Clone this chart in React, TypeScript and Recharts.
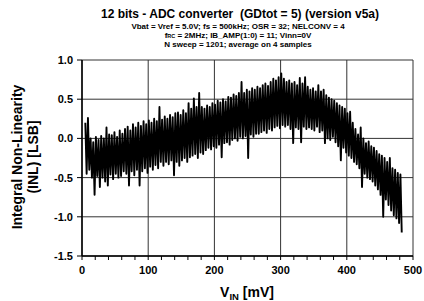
import { LineChart, Line, XAxis, YAxis, CartesianGrid } from 'recharts';

// INL, one value every 2 mV starting at 5 mV
const inlValues = [
  0.2, -0.45, 0.26, -0.4, 0.0, -0.5, -0.05, -0.72, 0.02, -0.48,
  -0.02, -0.62, 0.03, -0.5, 0.0, -0.55, 0.14, -0.6, 0.05, -0.46,
  0.04, -0.52, 0.08, -0.45, 0.02, -0.5, 0.1, -0.48, 0.06, -0.42,
  0.12, -0.45, 0.15, -0.6, 0.1, -0.42, 0.18, -0.47, 0.14, -0.4,
  0.2, -0.6, 0.16, -0.42, 0.22, -0.38, 0.18, -0.44, 0.23, -0.36,
  0.2, -0.4, 0.25, -0.34, 0.22, -0.38, 0.4, -0.3, 0.24, -0.35,
  0.28, -0.3, 0.25, -0.33, 0.3, -0.28, 0.27, -0.47, 0.32, -0.3,
  0.33, -0.35, 0.3, -0.28, 0.36, -0.25, 0.32, -0.3, 0.45, -0.24,
  0.38, -0.22, 0.51, -0.2, 0.4, -0.25, 0.58, -0.18, 0.4, -0.2,
  0.38, -0.15, 0.42, -0.12, 0.4, -0.14, 0.45, -0.1, 0.43, -0.12,
  0.48, -0.08, 0.46, -0.24, 0.5, -0.06, 0.47, -0.05, 0.53, -0.08,
  0.52, -0.02, 0.56, 0.0, 0.54, -0.03, 0.58, 0.02, 0.72, 0.0,
  0.58, 0.03, 0.62, -0.25, 0.6, 0.05, 0.64, 0.02, 0.62, 0.06,
  0.66, 0.06, 0.64, 0.08, 0.68, 0.1, 0.7, 0.07, 0.67, 0.12,
  0.72, 0.1, 0.76, 0.14, 0.74, 0.16, 0.78, 0.13, 0.83, 0.17,
  0.76, 0.15, 0.72, 0.17, 0.74, 0.12, 0.7, -0.06, 0.72, 0.14,
  0.68, 0.12, 0.77, -0.05, 0.7, 0.15, 0.78, 0.12, 0.66, 0.14,
  0.62, 0.12, 0.64, 0.1, 0.6, 0.15, 0.68, 0.08, 0.6, 0.1,
  0.62, -0.06, 0.55, 0.0, 0.52, -0.02, 0.5, 0.02, 0.48, -0.05,
  0.45, -0.1, 0.42, -0.28, 0.4, -0.12, 0.38, -0.18, 0.32, -0.22,
  0.34, -0.25, 0.2, -0.3, 0.12, -0.33, 0.05, -0.38, 0.14, -0.62,
  0.0, -0.45, -0.06, -0.5, -0.04, -0.52, -0.1, -0.55, -0.12, -0.6,
  -0.16, -0.65, -0.2, -0.72, -0.22, -1.0, -0.25, -0.78, -0.3, -0.85,
  -0.25, -0.92, -0.38, -0.98, -0.4, -1.02, -0.44, -1.08, -0.46, -1.2,
];
const VIN_START = 5;
const VIN_STEP = 2;

const xMajorTicks = [0, 100, 200, 300, 400, 500];
const xMinorTicks = [
  0, 20, 40, 60, 80, 100, 120, 140, 160, 180, 200, 220, 240, 260, 280, 300,
  320, 340, 360, 380, 400, 420, 440, 460, 480, 500,
];
const yTicks = [-1.5, -1.0, -0.5, 0, 0.5, 1.0];

const title = '12 bits - ADC converter  (GDtot = 5) (version v5a)';
const subtitle1 = 'Vbat = Vref = 5.0V; fs = 500kHz; OSR = 32; NELCONV = 4';
const subtitle3 = 'N sweep = 1201; average on 4 samples';

const data = inlValues.map((v, i) => ({ vin: VIN_START + i * VIN_STEP, inl: v }));

const FONT = '"Liberation Sans", Arial, sans-serif';

function XTick(props: any) {
  const { x, y, payload } = props;
  if (payload.value % 100 !== 0) return <g />;
  return (
    <text x={x} y={y + 12} textAnchor='middle' fontSize={11} fontWeight='bold' fontFamily={FONT} fill='#000'>
      {payload.value}
    </text>
  );
}

export default function App() {
  return (
    <div style={{ position: 'absolute', left: 0, top: 0, width: 424, height: 301, background: '#fff' }}>
      <LineChart width={424} height={301} data={data} margin={{ top: 60, right: 11, left: 0, bottom: 0 }}>
        <CartesianGrid xAxisId='grid' stroke='#333' strokeWidth={1} />
        <XAxis
          dataKey='vin'
          type='number'
          domain={[0, 500]}
          ticks={xMinorTicks}
          interval={0}
          tick={<XTick />}
          tickSize={4}
          height={45}
          axisLine={{ stroke: '#000', strokeWidth: 1.5 }}
          tickLine={{ stroke: '#000' }}
        />
        <XAxis xAxisId='grid' dataKey='vin' type='number' domain={[0, 500]} ticks={xMajorTicks} hide />
        <YAxis
          type='number'
          domain={[-1.5, 1.0]}
          ticks={yTicks}
          interval={0}
          width={82}
          tickSize={5}
          tickMargin={4}
          tickFormatter={(v: number) => v.toFixed(1)}
          tick={{ fontSize: 11, fontWeight: 'bold', fontFamily: FONT, fill: '#000' }}
          axisLine={{ stroke: '#000', strokeWidth: 1.5 }}
          tickLine={{ stroke: '#000' }}
        />
        <Line
          dataKey='inl'
          stroke='#000'
          strokeWidth={1.9}
          strokeLinejoin='round'
          dot={false}
          isAnimationActive={false}
        />
      </LineChart>
      <svg
        width={424}
        height={301}
        style={{ position: 'absolute', left: 0, top: 0, pointerEvents: 'none' }}
        fontFamily={FONT}
        fontWeight='bold'
      >
        <text x={240} y={18} textAnchor='middle' fontSize={12} xmlSpace='preserve'>{title}</text>
        <text x={238} y={28.5} textAnchor='middle' fontSize={8}>{subtitle1}</text>
        <text x={238} y={37.5} textAnchor='middle' fontSize={8}>
          f<tspan fontSize={5.5}>RC</tspan> = 2MHz; IB_AMP(1:0) = 11; Vinn=0V
        </text>
        <text x={238} y={46.5} textAnchor='middle' fontSize={8}>{subtitle3}</text>
        <text x={247} y={297} textAnchor='middle' fontSize={14}>
          V<tspan fontSize={9.5} dy={3}>IN</tspan><tspan dy={-3}> [mV]</tspan>
        </text>
        <text transform='translate(22,157) rotate(-90)' textAnchor='middle' fontSize={14}>
          Integral Non-Linearity
        </text>
        <text transform='translate(38,157) rotate(-90)' textAnchor='middle' fontSize={14}>
          (INL) [LSB]
        </text>
      </svg>
    </div>
  );
}
